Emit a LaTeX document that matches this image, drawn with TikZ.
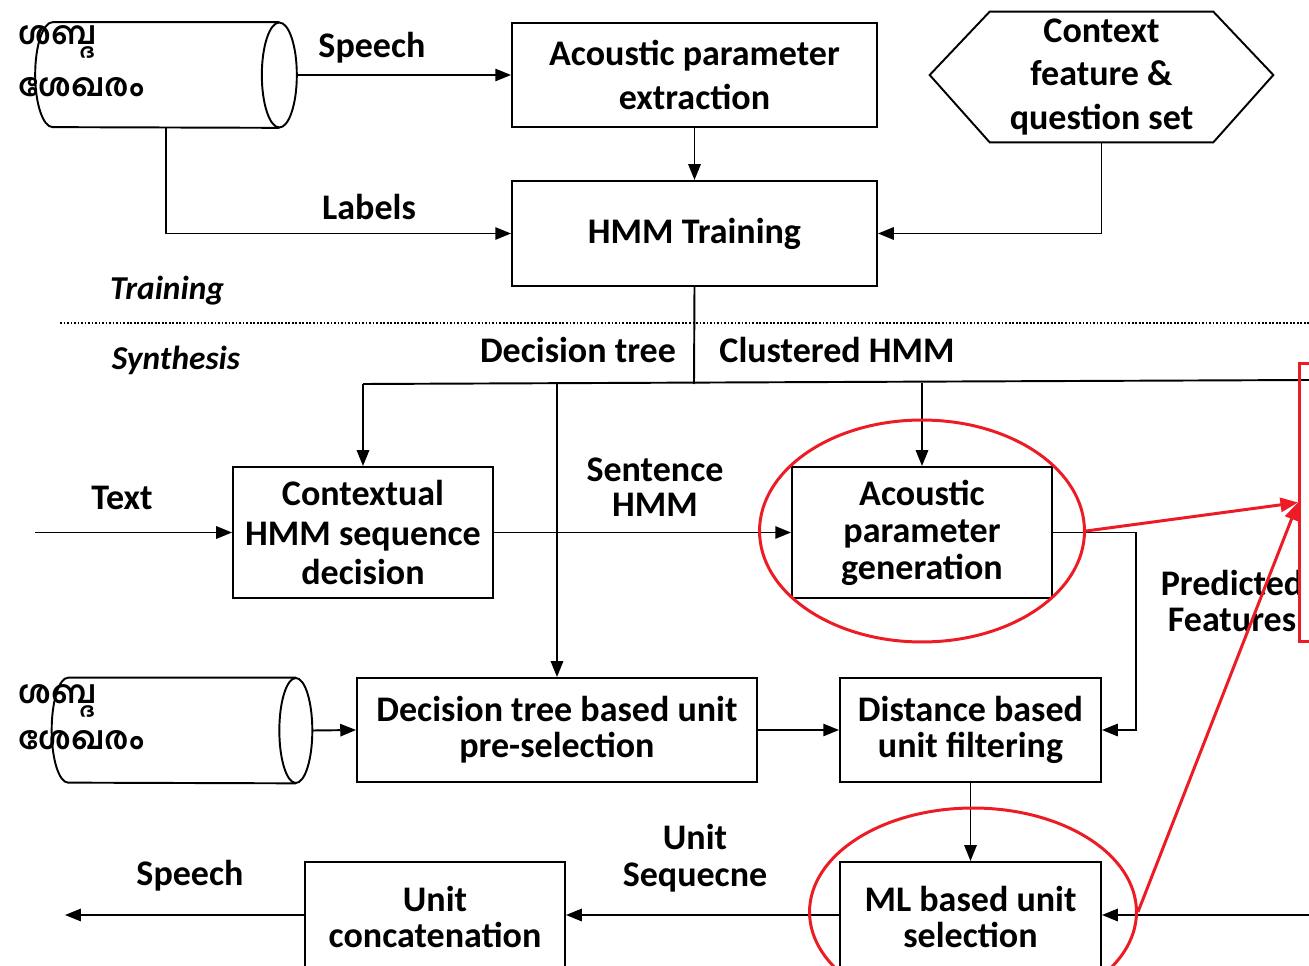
\documentclass[tikz,border=0pt]{standalone}
\usepackage{fontspec}
\setmainfont{Carlito}
\newfontfamily\malfont[Script=Malayalam]{Hind Kochi}
\usetikzlibrary{positioning, arrows.meta, shapes.geometric}
\definecolor{RojoMarca}{RGB}{237, 28, 36}

\begin{document}
\begin{tikzpicture}[x=0.02cm, y=-0.02cm,
    caja/.style={draw, line width=1.1pt, minimum width=5.2cm, minimum height=2.08cm,
        align=center, inner sep=1pt, font=\bfseries\fontsize{20.5}{22}\selectfont},
    etiqueta/.style={align=center, font=\bfseries\fontsize{20.5}{21}\selectfont},
    fase/.style={font=\bfseries\itshape\fontsize{19}{21}\selectfont},
    disco/.style={minimum width=5.22cm, minimum height=2.1cm, inner sep=0pt},
    malayalam/.style={anchor=west, font=\malfont\bfseries\fontsize{18}{20}\selectfont},
    linea/.style={line width=1.1pt},
    flecha/.style={line width=1.1pt, -{Triangle[length=9pt, width=7pt]}},
    marca/.style={draw=RojoMarca, line width=1.7pt},
    flecharoja/.style={RojoMarca, line width=1.7pt, -{Triangle[length=10pt, width=8pt]}}]
    \useasboundingbox (0,0) rectangle (1309,966);
    \clip (0,0) rectangle (1309,966);

    % Entrenamiento
    \node[disco] (bdvoz) at (166,75) {};
    \foreach \cil in {bdvoz}{
    \draw[linea] ([xshift=-0.35cm]\cil.north east) -- ([xshift=0.35cm]\cil.north west)
        arc[start angle=90, end angle=270, x radius=0.35cm, y radius=1.05cm]
        -- ([xshift=-0.35cm]\cil.south east);
    \draw[linea] ([xshift=-0.35cm]\cil.east) ellipse [x radius=0.35cm, y radius=1.05cm];
    }
    \node[malayalam] at (12,42) {ശബ്ദ};
    \node[malayalam] at (12,87) {ശേഖരം};
    \node[caja, minimum width=7.3cm, font=\bfseries\fontsize{20.5}{25}\selectfont] (extrac) at (694.5,75) {Acoustic parameter\\extraction};
    \node[caja, minimum width=7.3cm, minimum height=2.1cm] (hmm) at (694.5,233.5) {HMM Training};
    \node[minimum width=6.86cm, minimum height=2.6cm, inner sep=0pt, align=center,
          font=\bfseries\fontsize{20.5}{24.5}\selectfont] (ctx) at (1101.5,77) {Context\\feature \&\\question set};
    \draw[linea] ([yshift=0.04cm]ctx.west) -- ([xshift=1.2cm]ctx.north west) -- ([xshift=-1.2cm]ctx.north east)
        -- ([yshift=0.04cm]ctx.east) -- ([xshift=-1.2cm]ctx.south east) -- ([xshift=1.2cm]ctx.south west) -- cycle;

    \draw[flecha] (bdvoz.east) -- (extrac.west);
    \node[etiqueta] at (372,48) {Speech};
    \draw[flecha] (extrac) -- (hmm);
    \draw[flecha] (bdvoz.south) |- (hmm.west);
    \node[etiqueta] at (369,207) {Labels};
    \draw[flecha] (ctx.south) |- (hmm.east);

    % Separacion
    \draw[line width=0.6pt, dash pattern=on 1pt off 1pt] (60,323) -- (1309,323);
    \node[fase] at (167,291) {Training};
    \node[fase] at (176,360) {Synthesis};

    % Sintesis
    \coordinate (rama) at (694,384);
    \coordinate (ramaizq) at (363,384);
    \coordinate (ramadt) at (557,384);
    \coordinate (ramagen) at (922,383);
    \coordinate (ramafin) at (1309,380);
    \draw[linea] (hmm.south) -- (rama);
    \draw[linea] (ramaizq) -- (ramafin);
    \node[etiqueta] at (578,350) {Decision tree};
    \node[etiqueta] at (837,350) {Clustered HMM};

    \node[caja, font=\bfseries\fontsize{20.5}{22.5}\selectfont, minimum height=2.62cm] (ctxhmm) at (363,532.5) {Contextual\\HMM sequence\\decision};
    \node[caja, font=\bfseries\fontsize{20.5}{21}\selectfont, minimum height=2.62cm] (gen) at (922,532.5) {Acoustic\\parameter\\generation};
    \node[disco, minimum width=5.2cm] (bdunid) at (182,730.5) {};
    \foreach \cil in {bdunid}{
    \draw[linea] ([xshift=-0.33cm]\cil.north east) -- ([xshift=0.33cm]\cil.north west)
        arc[start angle=90, end angle=270, x radius=0.33cm, y radius=1.05cm]
        -- ([xshift=-0.33cm]\cil.south east);
    \draw[linea] ([xshift=-0.33cm]\cil.east) ellipse [x radius=0.33cm, y radius=1.05cm];
    }
    \node[malayalam] at (12,701) {ശബ്ദ};
    \node[malayalam] at (12,740) {ശേഖരം};
    \node[caja, minimum width=8cm, font=\bfseries\fontsize{20.5}{20.5}\selectfont] (dtsel) at (557,730) {Decision tree based unit\\pre-selection};
    \node[caja, minimum width=5.22cm, font=\bfseries\fontsize{20.5}{20.5}\selectfont] (dist) at (970.5,730) {Distance based\\unit filtering};
    \node[caja, minimum width=5.22cm, minimum height=2.2cm, font=\bfseries\fontsize{20.5}{20.5}\selectfont] (mlsel) at (970.5,917) {ML based unit\\selection};
    \node[caja, minimum height=2.2cm, font=\bfseries\fontsize{20.5}{20.5}\selectfont] (concat) at (435,917) {Unit\\concatenation};

    \draw[flecha] (ramaizq) -- (ctxhmm.north);
    \draw[flecha] (ramadt) -- (dtsel.north);
    \draw[flecha] (ramagen) -- (gen.north);

    \coordinate (entrada) at (35,532.5);
    \draw[flecha] (entrada) -- (ctxhmm.west);
    \node[etiqueta] at (122,498) {Text};
    \draw[flecha] (ctxhmm) -- (gen);
    \node[etiqueta, font=\bfseries\fontsize{20.5}{20}\selectfont] at (655,487) {Sentence\\HMM};
    \draw[flecha] (gen.east) -- ++(83,0) |- (dist.east);
    \node[etiqueta, font=\bfseries\fontsize{20.5}{21}\selectfont] at (1232,601) {Predicted\\Features};

    \draw[flecha] (bdunid.east) -- (dtsel.west);
    \draw[flecha] (dtsel) -- (dist);
    \draw[flecha] (dist) -- (mlsel);
    \coordinate (derecha) at (1309,915);
    \draw[flecha] (derecha) -- (mlsel.east |- derecha);
    \draw[flecha] (mlsel.west |- derecha) -- (concat.east |- derecha);
    \node[etiqueta, font=\bfseries\fontsize{20.5}{21}\selectfont] at (695,858) {Unit\\Sequecne};
    \coordinate (salida) at (65,915);
    \draw[flecha] (concat.west |- salida) -- (salida);
    \node[etiqueta] at (190,876) {Speech};

    % Marcas en rojo
    \node[marca, ellipse, minimum width=6.5cm, minimum height=4.44cm] (elgen) at (922,531) {};
    \node[marca, ellipse, minimum width=6.54cm, minimum height=4.16cm] (elml) at (973,912) {};
    \node[marca, minimum width=0.5cm, minimum height=5.58cm] (objetivo) at (1312,502.5) {};
    \draw[flecharoja] (elgen.east) -- (objetivo.west);
    \draw[flecharoja] (elml.east) -- (objetivo.west);
\end{tikzpicture}
\end{document}
